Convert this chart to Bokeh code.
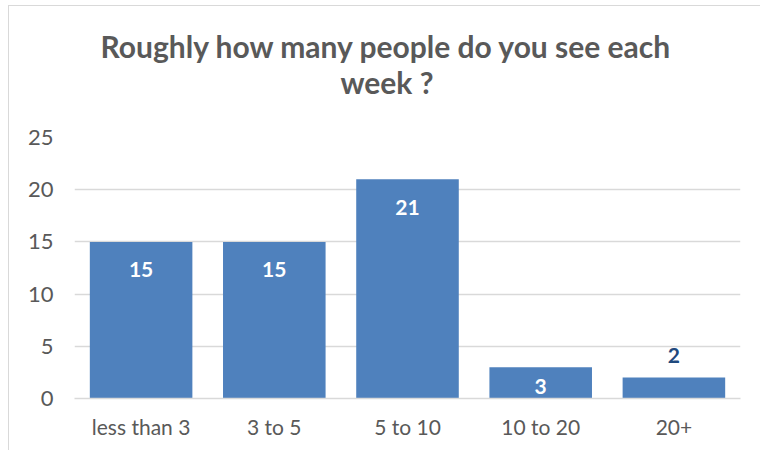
from bokeh.plotting import figure
from bokeh.models import ColumnDataSource, Title, FactorRange, Range1d, FixedTicker
from bokeh.core.properties import value
from bokeh.embed import file_html
from bokeh.resources import INLINE

categories = ["less than 3", "3 to 5", "5 to 10", "10 to 20", "20+"]
counts = [15, 15, 21, 3, 2]
title_lines = ["Roughly how many people do you see each", "week ?"]
y_ticks = [0, 5, 10, 15, 20, 25]

FONT = "Lato"
W, H = 760, 450
FRAME_H = 261
YMAX = 25
ppu = FRAME_H / YMAX

p = figure(x_range=FactorRange(factors=categories, range_padding=0),
           y_range=Range1d(0, YMAX), width=W, height=H,
           output_backend="svg", toolbar_location=None,
           min_border_left=74, min_border_right=20,
           min_border_top=137, min_border_bottom=52)
p.border_fill_color = None
p.background_fill_color = "white"
p.styles = {"background": "linear-gradient(#d9d9d9,#d9d9d9) 8px 5px / 1px 100% no-repeat, "
                          "linear-gradient(#d9d9d9,#d9d9d9) 8px 5px / 100% 1px no-repeat, white"}

t2 = Title(text=title_lines[1], align="left", text_font=FONT,
           text_font_size="30px", text_font_style="bold",
           text_color="#595959", offset=266, standoff=76)
p.add_layout(t2, "above")
t1 = Title(text=title_lines[0], align="left", text_font=FONT,
           text_font_size="30px", text_font_style="bold",
           text_color="#595959", offset=26, standoff=-80)
p.add_layout(t1, "above")

# label placement
inside = [c >= 3 for c in counts]
colors = ["#FFFFFF" if i else "#1F497D" for i in inside]
offs = []
for c, i in zip(counts, inside):
    h = c * ppu
    offs.append(min(28, h / 2 + 4) if i else -22)

src = ColumnDataSource(dict(x=categories, top=counts,
                            lab=[str(c) for c in counts],
                            col=colors, off=offs))

p.vbar(x="x", top="top", width=0.77, source=src,
       fill_color="#4F81BD", line_color=None)
p.text(x="x", y="top", text="lab", source=src, text_color="col",
       y_offset="off", text_align="center", text_baseline="middle",
       text_font=value(FONT), text_font_size="21px", text_font_style="bold")

p.outline_line_color = None
p.xgrid.grid_line_color = None
p.ygrid.grid_line_color = "#d9d9d9"
p.ygrid.grid_line_width = 1.5
p.yaxis.ticker = FixedTicker(ticks=y_ticks)
p.yaxis.axis_line_color = None
p.yaxis.major_tick_line_color = None
p.yaxis.minor_tick_line_color = None
p.yaxis.major_label_standoff = 15
p.yaxis.major_label_text_font = FONT
p.yaxis.major_label_text_font_size = "22px"
p.yaxis.major_label_text_color = "#595959"

p.xaxis.axis_line_color = "#d9d9d9"
p.xaxis.axis_line_width = 1.5
p.xaxis.major_tick_line_color = None
p.xaxis.minor_tick_line_color = None
p.xaxis.major_label_standoff = 9
p.xaxis.major_label_text_font = FONT
p.xaxis.major_label_text_font_size = "21px"
p.xaxis.major_label_text_color = "#595959"

open("out.html", "w").write(file_html(p, INLINE))
